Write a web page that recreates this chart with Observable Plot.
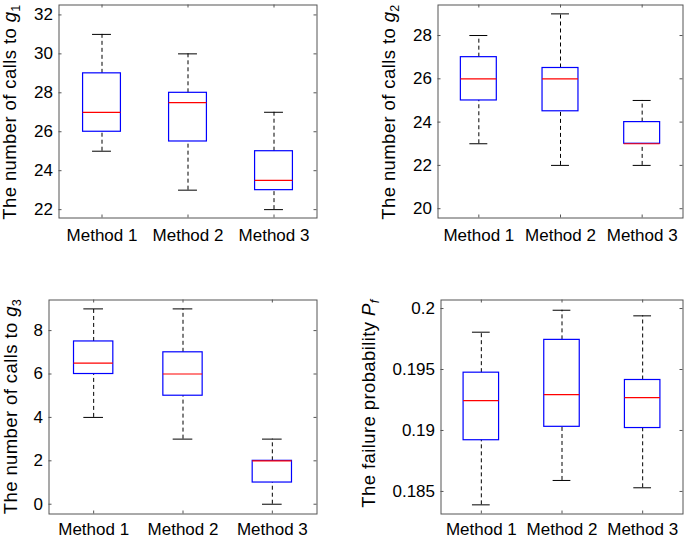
<!DOCTYPE html>
<html><head><meta charset="utf-8">
<script src="https://cdn.jsdelivr.net/npm/d3@7"></script>
<script src="https://cdn.jsdelivr.net/npm/@observablehq/plot@0.6"></script>
<style>
body{margin:0;background:#fff}
#root{position:relative;width:685px;height:539px;overflow:hidden;background:#fff}
#root svg{position:absolute;overflow:visible}
#root svg g[aria-label$="tick label"]{font-size:17px;font-family:"Liberation Sans",Arial,Helvetica,sans-serif;fill:#000}
</style></head><body><div id="root"></div>
<script>
const methods = ["Method 1", "Method 2", "Method 3"];
const positions = [1, 2, 3];

// Panel 1: calls to g1
const g1Low  = [25, 23, 22];
const g1Q1   = [26, 25.5, 23];
const g1Med  = [27, 27.5, 23.5];
const g1Q3   = [29, 28, 25];
const g1High = [31, 30, 27];
const g1Ticks = [22, 24, 26, 28, 30, 32];

// Panel 2: calls to g2
const g2Low  = [23, 22, 22];
const g2Q1   = [25, 24.5, 23];
const g2Med  = [26, 26, 23];
const g2Q3   = [27, 26.5, 24];
const g2High = [28, 29, 25];
const g2Ticks = [20, 22, 24, 26, 28];

// Panel 3: calls to g3
const g3Low  = [4, 3, 0];
const g3Q1   = [6, 5, 1];
const g3Med  = [6.5, 6, 2];
const g3Q3   = [7.5, 7, 2];
const g3High = [9, 9, 3];
const g3Ticks = [0, 2, 4, 6, 8];

// Panel 4: failure probability Pf
const pfLow  = [0.1839, 0.1859, 0.1853];
const pfQ1   = [0.1892, 0.1903, 0.1902];
const pfMed  = [0.19245, 0.19294, 0.19269];
const pfQ3   = [0.19474, 0.19743, 0.19414];
const pfHigh = [0.19806, 0.19986, 0.1994];
const pfTicks = [0.185, 0.19, 0.195, 0.2];

const FONT = '"Liberation Sans", Arial, Helvetica, sans-serif';
const AXIS = "#555";
const BOX_HALF = 0.22, CAP_HALF = 0.11, TICK_LEN = 3;

function panel(o) {
  const rows = positions.map((p, i) => ({
    pos: p, low: o.low[i], q1: o.q1[i], med: o.med[i], q3: o.q3[i], high: o.high[i]
  }));
  const innerW = o.width - o.ml - o.mr;
  const innerH = o.height - o.mt - o.mb;
  const dashed = {stroke: "#000", strokeWidth: 1, strokeDasharray: "4,3"};
  const svg = Plot.plot({
    width: o.width, height: o.height,
    marginLeft: o.ml, marginRight: o.mr, marginTop: o.mt, marginBottom: o.mb,
    style: {fontFamily: FONT, fontSize: "17px", color: "#000", background: "transparent"},
    x: {domain: [0.5, 3.5]},
    y: {domain: o.yDomain},
    marks: [
      Plot.ruleX(rows, {x: "pos", y1: "q3", y2: "high", ...dashed}),
      Plot.ruleX(rows, {x: "pos", y1: "low", y2: "q1", ...dashed}),
      Plot.ruleY(rows, {y: "high", x1: d => d.pos - CAP_HALF, x2: d => d.pos + CAP_HALF, stroke: "#000"}),
      Plot.ruleY(rows, {y: "low", x1: d => d.pos - CAP_HALF, x2: d => d.pos + CAP_HALF, stroke: "#000"}),
      Plot.rect(rows, {x1: d => d.pos - BOX_HALF, x2: d => d.pos + BOX_HALF, y1: "q1", y2: "q3", fill: "none", stroke: "#0000ff", strokeWidth: 1.2}),
      Plot.ruleY(rows, {y: "med", x1: d => d.pos - BOX_HALF, x2: d => d.pos + BOX_HALF, stroke: "#ff0000", strokeWidth: 1.2}),
      Plot.frame({stroke: AXIS}),
      // inward ticks (MATLAB style, mirrored)
      Plot.tickY(o.ticks, {y: d => d, insetRight: innerW - TICK_LEN, stroke: AXIS}),
      Plot.tickY(o.ticks, {y: d => d, insetLeft: innerW - TICK_LEN, stroke: AXIS}),
      Plot.tickX(positions, {x: d => d, insetTop: innerH - TICK_LEN, stroke: AXIS}),
      Plot.tickX(positions, {x: d => d, insetBottom: innerH - TICK_LEN, stroke: AXIS}),
      Plot.axisY({ticks: o.ticks, tickSize: 0, tickPadding: 6, tickFormat: d => String(d), label: null, fontSize: 17}),
      Plot.axisX({ticks: positions, tickSize: 0, tickPadding: o.xPad, tickFormat: d => methods[d - 1], label: null, fontSize: 17})
    ]
  });
  svg.style.left = o.left + "px";
  svg.style.top = o.top + "px";
  const cy = o.mt + innerH / 2 + (o.labelDy || 0);
  const t = d3.select(svg).append("text")
    .attr("transform", `translate(${o.labelX},${cy}) rotate(-90)`)
    .attr("text-anchor", "middle")
    .attr("font-family", FONT)
    .style("font-size", "18.5px")
    .attr("letter-spacing", "0.4px")
    .attr("fill", "#000");
  t.append("tspan").text(o.label[0]);
  t.append("tspan").attr("font-style", "italic").text(o.label[1]);
  t.append("tspan").style("font-size", "12.5px").attr("dy", 4)
    .attr("font-style", o.subItalic ? "italic" : null).text(o.label[2]);
  document.getElementById("root").appendChild(svg);
}

panel({low: g1Low, q1: g1Q1, med: g1Med, q3: g1Q3, high: g1High, ticks: g1Ticks,
  yDomain: [21.57, 32.51], left: 0, top: 0, width: 340, height: 270,
  ml: 58.5, mr: 23.5, mt: 4.5, mb: 52.5, labelX: 15.5, labelDy: 1, xPad: 11,
  label: ["The number of calls to ", "g", "1"]});

panel({low: g2Low, q1: g2Q1, med: g2Med, q3: g2Q3, high: g2High, ticks: g2Ticks,
  yDomain: [19.57, 29.41], left: 340, top: 0, width: 345, height: 270,
  ml: 97.5, mr: 2.5, mt: 4.5, mb: 52.5, labelX: 54.5, labelDy: 1, xPad: 11,
  label: ["The number of calls to ", "g", "2"]});

panel({low: g3Low, q1: g3Q1, med: g3Med, q3: g3Q3, high: g3High, ticks: g3Ticks,
  yDomain: [-0.45, 9.41], left: 0, top: 270, width: 340, height: 269,
  ml: 48.5, mr: 23.5, mt: 29.5, mb: 25.5, labelX: 16.5, xPad: 9,
  label: ["The number of calls to ", "g", "3"]});

panel({low: pfLow, q1: pfQ1, med: pfMed, q3: pfQ3, high: pfHigh, ticks: pfTicks,
  yDomain: [0.18315, 0.2007], left: 340, top: 270, width: 345, height: 269,
  ml: 100.5, mr: 2.5, mt: 29.5, mb: 25.5, labelX: 34.5, labelDy: -3, subItalic: true, xPad: 9,
  label: ["The failure probability ", "P", "f"]});
</script></body></html>
